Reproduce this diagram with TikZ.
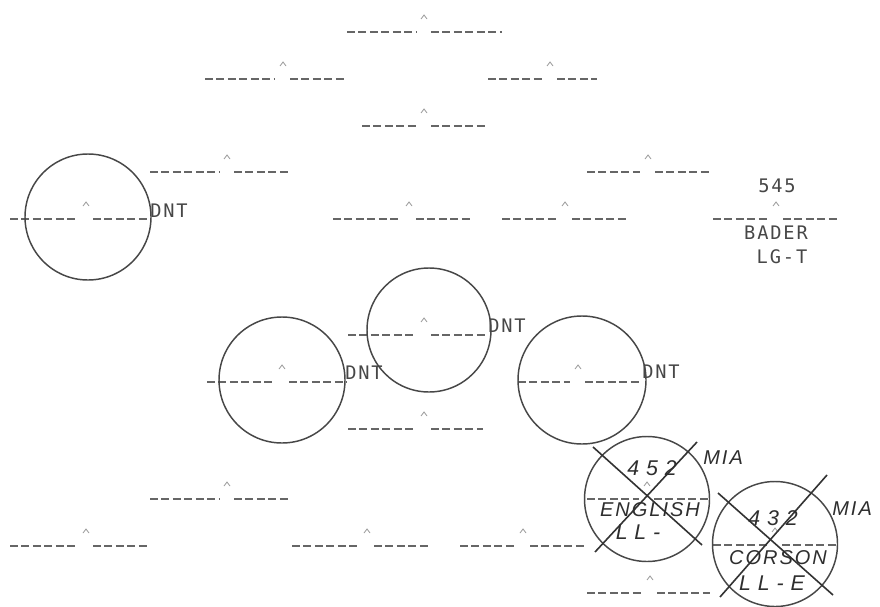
\documentclass[tikz,border=0pt]{standalone}
\usepackage{fontspec}
\newfontfamily\lettering[LetterSpace=10]{DejaVu Sans Mono}
\newfontfamily\hand[LetterSpace=10]{Liberation Sans}
\tikzset{
  slotline/.style={draw=black!60, line width=1.0pt, dash pattern=on 6pt off 2.6pt},
  caretmark/.style={draw=black!40, line width=0.6pt},
  ring/.style={circle, draw=black!72, line width=1.1pt, inner sep=0pt},
  xline/.style={draw=black!80, line width=1.2pt},
  letter/.style={text=black!72, inner sep=0pt, font=\lettering\fontsize{14pt}{16pt}\selectfont},
  handtext/.style={text=black!82, inner sep=0pt, font=\hand\itshape\fontsize{15pt}{17pt}\selectfont},
  handwide/.style={handtext, font=\hand\itshape\fontsize{16pt}{18pt}\selectfont\addfontfeatures{LetterSpace=32}},
}
\newcommand{\slotmark}[4]{%
  \draw[slotline] (#3,#2) -- ({#1-8},#2);
  \draw[slotline] ({#1+7},#2) -- (#4,#2);
  \draw[caretmark] ({#1-3},{#2-13}) -- (#1,{#2-17}) -- ({#1+3},{#2-13});
}
\begin{document}
\begin{tikzpicture}[x=0.75pt,y=-0.75pt]
\useasboundingbox (0,0) rectangle (880,606);
\clip (0,0) rectangle (880,606);
\fill[white] (0,0) rectangle (880,606);

% slots
\slotmark{424}{32}{347}{502}
\slotmark{283}{79}{205}{345}
\slotmark{550}{79}{488}{597}
\slotmark{424}{126}{362}{487}
\slotmark{227}{172}{150}{289}
\slotmark{648}{172}{587}{710}
\slotmark{86}{219}{10}{150}
\slotmark{409}{219}{333}{473}
\slotmark{565}{219}{502}{627}
\slotmark{776}{219}{713}{837}
\slotmark{424}{335}{348}{487}
\slotmark{282}{382}{207}{347}
\slotmark{578}{382}{518}{640}
\slotmark{424}{429}{348}{483}
\slotmark{227}{499}{150}{290}
\slotmark{647}{499}{587}{708}
\slotmark{86}{546}{10}{150}
\slotmark{367}{546}{292}{430}
\slotmark{523}{546}{460}{585}
\slotmark{775}{545}{713}{837}
\slotmark{650}{593}{587}{710}

% circles
\node[ring, minimum size=126*0.75pt] (c1) at (88,217) {};
\node[ring, minimum size=124*0.75pt] (c2) at (429,330) {};
\node[ring, minimum size=126*0.75pt] (c3) at (282,380) {};
\node[ring, minimum size=128*0.75pt] (c4) at (582,380) {};
\node[ring, minimum size=125*0.75pt] (c5) at (647,499) {};
\node[ring, minimum size=125*0.75pt] (c6) at (775,544) {};

% DNT labels
\node[letter, anchor=base west] (d1) at (150,217) {DNT};
\node[letter, anchor=base west] (d2) at (488,332) {DNT};
\node[letter, anchor=base west] (d3) at (345,379) {DNT};
\node[letter, anchor=base west] (d4) at (642,378) {DNT};

% Bader
\node[letter, anchor=base] (n545) at (777,192) {545};
\node[letter, anchor=base] (bader) at (776,239) {BADER};
\node[letter, anchor=base] (lgt) at (782,263) {LG-T};

% crossed circle 452
\draw[xline] (593,447) -- (702,545);
\draw[xline] (697,442) -- (595,552);
\node[handwide, anchor=base] (t452) at (652,475) {452};
\node[handtext, anchor=base west] (mia1) at (703,464) {MIA};
\node[handtext, anchor=base] (eng) at (650,516) {ENGLISH};
\node[handwide, anchor=base] (ll1) at (638,539) {LL-};

% crossed circle 432
\draw[xline] (718,493) -- (833,595);
\draw[xline] (827,475) -- (720,597);
\node[handwide, anchor=base] (t432) at (773,525) {432};
\node[handtext, anchor=base west] (mia2) at (832,515) {MIA};
\node[handtext, anchor=base] (cor) at (778,564) {CORSON};
\node[handwide, anchor=base] (ll2) at (772,590) {LL-E};
\end{tikzpicture}
\end{document}
